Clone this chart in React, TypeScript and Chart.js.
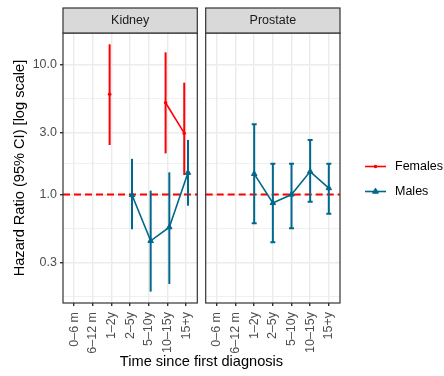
import React, { useEffect, useRef } from 'react';
import { Chart, registerables } from 'chart.js';

Chart.register(...registerables);

// ---------------- data ----------------
const categories = ['0–6 m', '6–12 m', '1–2y', '2–5y', '5–10y', '10–15y', '15+y'];
const panels = ['Kidney', 'Prostate'];
const seriesNames = ['Females', 'Males'];

const yMajorTicks = [0.3, 1, 3, 10];
const yMinorTicks = [0.164, 0.548, 1.73, 5.48];
const yAxisMin = 0.1463;
const yAxisMax = 17.46;
const referenceHR = 1;

// Kidney – Females
const kidneyFemalesHR = [null, null, 5.9, null, null, 5.08, 2.96];
const kidneyFemalesLo = [null, null, 2.4, null, null, 2.07, 1.41];
const kidneyFemalesHi = [null, null, 14.3, null, null, 12.4, 7.24];
// Kidney – Males
const kidneyMalesHR = [null, null, null, 0.99, 0.44, 0.56, 1.47];
const kidneyMalesLo = [null, null, null, 0.54, 0.179, 0.205, 0.82];
const kidneyMalesHi = [null, null, null, 1.88, 1.07, 1.48, 2.63];
// Prostate – Males
const prostateMalesHR = [null, null, 1.44, 0.86, 1.0, 1.5, 1.12];
const prostateMalesLo = [null, null, 0.6, 0.43, 0.55, 0.88, 0.71];
const prostateMalesHi = [null, null, 3.47, 1.72, 1.72, 2.63, 1.72];

// ---------------- style / layout ----------------
const RED = '#FF0000';
const TEAL = '#00688B';
const FONT = "'Liberation Sans', Arial, Helvetica, sans-serif";
const EXPAND = 0.6;
const GAP = 0.45;
const SPAN = categories.length - 1 + 2 * EXPAND;
const SHIFT = SPAN + GAP;
const DODGE = 0.1;
const X_MIN = 1 - EXPAND;
const X_MAX = X_MIN + panels.length * SPAN + (panels.length - 1) * GAP;
const xPos = (p: number, i: number, d = 0) => p * SHIFT + i + 1 + d;
const panelLeft = (p: number) => X_MIN + p * SHIFT;
const panelRight = (p: number) => panelLeft(p) + SPAN;
const STRIP_TOP = 8;

const isMajor = (v: number) => yMajorTicks.some((m) => Math.abs(m - v) < 1e-9);

const xTickPositions: { value: number; label: string }[] = [];
panels.forEach((_, p) => categories.forEach((c, i) => xTickPositions.push({ value: xPos(p, i), label: c })));

function series(
  label: string,
  panel: number,
  hr: (number | null)[],
  lo: (number | null)[],
  hi: (number | null)[],
  dodge: number,
  color: string,
  style: string,
  radius: number,
  cap: number
) {
  return {
    label,
    capWidth: cap,
    data: categories.map((_, i) => ({ x: xPos(panel, i, dodge), y: hr[i], lo: lo[i], hi: hi[i] })),
    borderColor: color,
    backgroundColor: color,
    pointStyle: style,
    pointRadius: radius,
    pointBorderWidth: style === 'triangle' ? 1 : 0,
    pointBorderColor: color,
    borderWidth: 1.6,
    spanGaps: false,
    tension: 0,
  };
}

function drawMarker(ctx: CanvasRenderingContext2D, style: string, x: number, y: number, r: number, color: string) {
  ctx.fillStyle = color;
  ctx.strokeStyle = color;
  ctx.beginPath();
  if (style === 'triangle') {
    for (let k = 0; k < 3; k++) {
      const a = (k * 2 * Math.PI) / 3;
      const px = x + Math.sin(a) * r;
      const py = y - Math.cos(a) * r;
      if (k === 0) ctx.moveTo(px, py);
      else ctx.lineTo(px, py);
    }
    ctx.closePath();
    ctx.fill();
    ctx.lineWidth = 1;
    ctx.stroke();
  } else {
    ctx.arc(x, y, r, 0, Math.PI * 2);
    ctx.fill();
  }
}

const facetPlugin = {
  id: 'facetPanels',
  beforeDatasetsDraw(chart: any) {
    const { ctx, chartArea: a } = chart;
    const x = chart.scales.x;
    const y = chart.scales.y;
    ctx.save();
    // blank gap between panels
    for (let p = 0; p < panels.length - 1; p++) {
      const gl = x.getPixelForValue(panelRight(p));
      const gr = x.getPixelForValue(panelLeft(p + 1));
      ctx.fillStyle = '#FFFFFF';
      ctx.fillRect(gl, a.top - 2, gr - gl, a.bottom - a.top + 4);
    }
    // reference line
    const yr = y.getPixelForValue(referenceHR);
    ctx.strokeStyle = RED;
    ctx.lineWidth = 1.8;
    ctx.setLineDash([7, 4]);
    panels.forEach((_, p) => {
      ctx.beginPath();
      ctx.moveTo(x.getPixelForValue(panelLeft(p)), yr);
      ctx.lineTo(x.getPixelForValue(panelRight(p)), yr);
      ctx.stroke();
    });
    ctx.setLineDash([]);
    // error bars
    chart.data.datasets.forEach((ds: any) => {
      ctx.strokeStyle = ds.borderColor;
      ctx.lineWidth = 2;
      const cap = ds.capWidth || 0;
      ds.data.forEach((pt: any) => {
        if (pt.lo == null || pt.hi == null) return;
        const px = x.getPixelForValue(pt.x);
        const y1 = y.getPixelForValue(pt.lo);
        const y2 = y.getPixelForValue(pt.hi);
        ctx.beginPath();
        ctx.moveTo(px, y1);
        ctx.lineTo(px, y2);
        if (cap) {
          ctx.moveTo(px - cap, y1);
          ctx.lineTo(px + cap, y1);
          ctx.moveTo(px - cap, y2);
          ctx.lineTo(px + cap, y2);
        }
        ctx.stroke();
      });
    });
    ctx.restore();
  },
  afterDatasetsDraw(chart: any) {
    const { ctx, chartArea: a } = chart;
    const x = chart.scales.x;
    ctx.save();
    ctx.strokeStyle = '#333333';
    ctx.lineWidth = 1.2;
    panels.forEach((_, p) => {
      const l = x.getPixelForValue(panelLeft(p));
      const r = x.getPixelForValue(panelRight(p));
      ctx.strokeRect(l, a.top, r - l, a.bottom - a.top);
    });
    ctx.restore();
  },
  afterDraw(chart: any) {
    const { ctx, chartArea: a } = chart;
    const x = chart.scales.x;
    ctx.save();
    // strips
    panels.forEach((name, p) => {
      const l = x.getPixelForValue(panelLeft(p));
      const r = x.getPixelForValue(panelRight(p));
      ctx.fillStyle = '#D9D9D9';
      ctx.fillRect(l, STRIP_TOP, r - l, a.top - STRIP_TOP);
      ctx.strokeStyle = '#333333';
      ctx.lineWidth = 1.2;
      ctx.strokeRect(l, STRIP_TOP, r - l, a.top - STRIP_TOP);
      ctx.fillStyle = '#1A1A1A';
      ctx.font = `12.5px ${FONT}`;
      ctx.textAlign = 'center';
      ctx.textBaseline = 'middle';
      ctx.fillText(name, (l + r) / 2, (STRIP_TOP + a.top) / 2 + 0.5);
    });
    // legend
    const rows = [
      { name: seriesNames[0], color: RED, style: 'circle', r: 1.8 },
      { name: seriesNames[1], color: TEAL, style: 'triangle', r: 3.4 },
    ];
    rows.forEach((row, k) => {
      const ly = 166.5 + k * 25;
      ctx.strokeStyle = row.color;
      ctx.lineWidth = 1.6;
      ctx.beginPath();
      ctx.moveTo(365, ly);
      ctx.lineTo(386, ly);
      ctx.stroke();
      drawMarker(ctx, row.style, 375.5, ly, row.r, row.color);
      ctx.fillStyle = '#000000';
      ctx.font = `12.5px ${FONT}`;
      ctx.textAlign = 'left';
      ctx.textBaseline = 'middle';
      ctx.fillText(row.name, 395, ly);
    });
    ctx.restore();
  },
};

export default function App() {
  const ref = useRef<HTMLCanvasElement | null>(null);
  useEffect(() => {
    if (!ref.current) return;
    const datasets = [
      series(seriesNames[0], 0, kidneyFemalesHR, kidneyFemalesLo, kidneyFemalesHi, -DODGE, RED, 'circle', 1.8, 0),
      series(seriesNames[1], 0, kidneyMalesHR, kidneyMalesLo, kidneyMalesHi, DODGE, TEAL, 'triangle', 3.2, 0),
      series(seriesNames[1], 1, prostateMalesHR, prostateMalesLo, prostateMalesHi, 0, TEAL, 'triangle', 3.2, 2.5),
    ];
    const chart = new Chart(ref.current, {
      type: 'line',
      data: { datasets: datasets as any },
      options: {
        animation: false,
        responsive: false,
        devicePixelRatio: 1,
        layout: { autoPadding: false, padding: { top: 33, right: 104, bottom: 0, left: 0 } } as any,
        plugins: { legend: { display: false }, tooltip: { enabled: false } },
        scales: {
          x: {
            type: 'linear',
            min: X_MIN,
            max: X_MAX,
            afterFit: (s: any) => {
              s.height = 73;
            },
            afterBuildTicks: (s: any) => {
              s.ticks = xTickPositions.map((t) => ({ value: t.value }));
            },
            border: { display: false },
            grid: { color: '#EBEBEB', lineWidth: 1.4, tickColor: '#333333', tickLength: 3, drawTicks: true },
            ticks: {
              autoSkip: false,
              maxRotation: 90,
              minRotation: 90,
              padding: 6,
              color: '#4D4D4D',
              font: { family: FONT, size: 12.5 },
              callback: (v: any) => {
                const t = xTickPositions.find((q) => Math.abs(q.value - Number(v)) < 1e-6);
                return t ? t.label : '';
              },
            },
            title: {
              display: true,
              text: 'Time since first diagnosis',
              color: '#000000',
              font: { family: FONT, size: 14.6 },
              padding: { top: 0, bottom: 5 },
            },
          },
          y: {
            type: 'logarithmic',
            min: yAxisMin,
            max: yAxisMax,
            afterFit: (s: any) => {
              s.width = 63;
            },
            afterBuildTicks: (s: any) => {
              s.ticks = [...yMinorTicks, ...yMajorTicks].sort((p, q) => p - q).map((v) => ({ value: v }));
            },
            border: { display: false },
            grid: {
              color: '#EBEBEB',
              lineWidth: (c: any) => (c.tick && isMajor(c.tick.value) ? 1.4 : 0.7),
              tickColor: (c: any) => (c.tick && isMajor(c.tick.value) ? '#333333' : 'rgba(0,0,0,0)'),
              tickLength: 3,
            },
            ticks: {
              autoSkip: false,
              padding: 3,
              color: '#4D4D4D',
              font: { family: FONT, size: 12.5 },
              callback: (v: any) => (isMajor(Number(v)) ? Number(v).toFixed(1) : ''),
            },
            title: {
              display: true,
              text: 'Hazard Ratio (95% CI) [log scale]',
              color: '#000000',
              font: { family: FONT, size: 14.6 },
              padding: { top: 11, bottom: 0 },
            },
          },
        },
      },
      plugins: [facetPlugin],
    });
    return () => chart.destroy();
  }, []);
  return (
    <div style={{ position: 'fixed', left: 0, top: 0, width: 444, height: 376, background: '#FFFFFF' }}>
      <canvas ref={ref} width={444} height={376} style={{ display: 'block' }} />
    </div>
  );
}
